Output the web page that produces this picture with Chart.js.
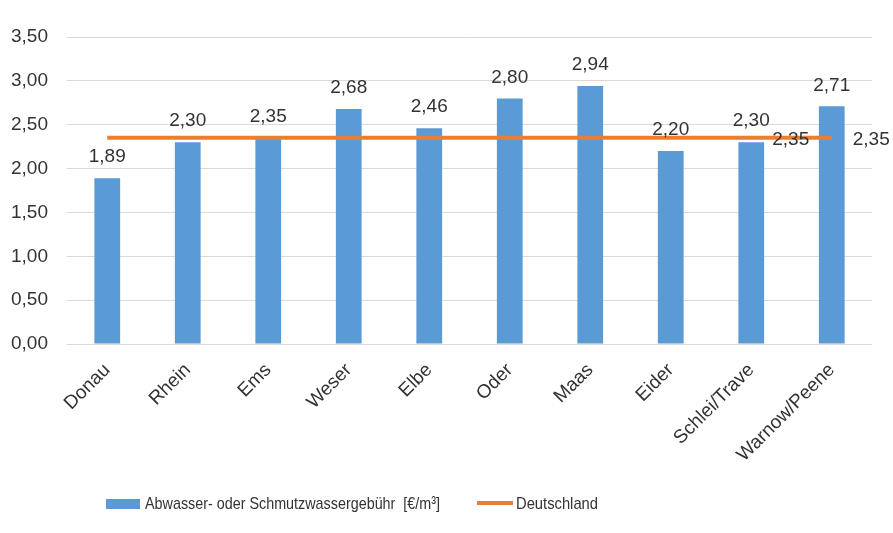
<!DOCTYPE html>
<html>
<head>
<meta charset="utf-8">
<script src="https://cdn.jsdelivr.net/npm/chart.js@4/dist/chart.umd.min.js"></script>
<style>
  html, body { margin: 0; padding: 0; background: #fff; }
  #wrap { width: 893px; height: 533px; position: relative; }
</style>
</head>
<body>
<div id="wrap"><canvas id="chart"></canvas></div>
<script>
// Abwassergebühr je Flussgebietseinheit
const categories = ['Donau', 'Rhein', 'Ems', 'Weser', 'Elbe', 'Oder', 'Maas', 'Eider', 'Schlei/Trave', 'Warnow/Peene'];
const gebuehr = [1.89, 2.30, 2.35, 2.68, 2.46, 2.80, 2.94, 2.20, 2.30, 2.71];
const deutschland = [2.35, 2.35, 2.35, 2.35, 2.35, 2.35, 2.35, 2.35, 2.35, 2.35];
const lineLabelIdx = [8, 9];

const seriesNames = ['Abwasser- oder Schmutzwassergebühr  [€/m³]', 'Deutschland'];
const blue = '#5b9bd5';
const orange = '#ed7d31';
const textColor = '#333333';
const font = 'Liberation Sans, Arial, sans-serif';

const fmt = v => v.toFixed(2).replace('.', ',');

// value labels + legend drawn on canvas
const labelsPlugin = {
  id: 'valueLabels',
  afterDatasetsDraw(chart) {
    const ctx = chart.ctx;
    ctx.save();
    ctx.font = '19px ' + font;
    ctx.fillStyle = textColor;
    ctx.textBaseline = 'middle';

    ctx.textAlign = 'center';
    chart.getDatasetMeta(1).data.forEach((el, i) => {
      ctx.fillText(fmt(gebuehr[i]), el.x, el.y - 21);
    });

    ctx.textAlign = 'left';
    const lineMeta = chart.getDatasetMeta(0);
    lineLabelIdx.forEach(i => {
      const el = lineMeta.data[i];
      ctx.fillText(fmt(deutschland[i]), el.x + 21, el.y + 2);
    });

    // legend (text is a bit condensed in the original)
    const ly = 504;
    ctx.fillStyle = blue;
    ctx.fillRect(106, ly - 5, 34, 10);
    ctx.strokeStyle = orange;
    ctx.lineWidth = 4;
    ctx.beginPath();
    ctx.moveTo(477, ly - 1);
    ctx.lineTo(513, ly - 1);
    ctx.stroke();

    ctx.font = '17px ' + font;
    ctx.fillStyle = textColor;
    const drawCondensed = (txt, x, w) => {
      const sx = w / ctx.measureText(txt).width;
      ctx.save();
      ctx.translate(x, ly);
      ctx.scale(sx, 1);
      ctx.fillText(txt, 0, 0);
      ctx.restore();
    };
    drawCondensed(seriesNames[0], 145, 295);
    drawCondensed(seriesNames[1], 516, 82);
    ctx.restore();
  }
};

new Chart(document.getElementById('chart'), {
  data: {
    labels: categories,
    datasets: [
      {
        type: 'line',
        label: seriesNames[1],
        data: deutschland,
        borderColor: orange,
        borderWidth: 4,
        pointRadius: 0,
        fill: false,
        order: 0,
      },
      {
        type: 'bar',
        label: seriesNames[0],
        data: gebuehr,
        backgroundColor: blue,
        categoryPercentage: 1,
        barPercentage: 0.32,
        order: 1,
      },
    ],
  },
  options: {
    responsive: true,
    maintainAspectRatio: false,
    animation: false,
    layout: { padding: { top: 37, right: 21, left: 0, bottom: 0 } },
    plugins: {
      legend: { display: false },
      tooltip: { enabled: false },
    },
    scales: {
      x: {
        grid: { display: false },
        border: { display: false },
        ticks: {
          color: textColor,
          font: { size: 19, family: font },
          maxRotation: 45,
          minRotation: 45,
          padding: 7,
          autoSkip: false,
        },
        afterFit: s => { s.height = 189; },
      },
      y: {
        min: 0,
        max: 3.5,
        grid: { color: '#d9d9d9', drawTicks: false },
        border: { display: false },
        ticks: {
          stepSize: 0.5,
          color: textColor,
          font: { size: 19, family: font },
          padding: 19,
          callback: v => fmt(v),
        },
        afterFit: s => { s.width = 67; },
      },
    },
  },
  plugins: [labelsPlugin],
});
</script>
</body>
</html>
